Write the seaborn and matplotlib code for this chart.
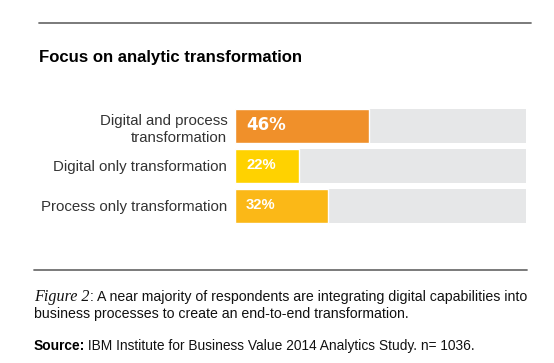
import matplotlib
matplotlib.use("Agg")
import matplotlib.pyplot as plt
import seaborn as sns
import pandas as pd
from matplotlib.lines import Line2D

categories = ["Digital and process\ntransformation", "Digital only transformation", "Process only transformation"]
values = [46, 22, 32]
bar_colors = ["#F0902A", "#FFD200", "#FBB817"]
total = [100, 100, 100]

title = "Focus on analytic transformation"
caption_fig = "Figure 2"
caption_rest = ": A near majority of respondents are integrating digital capabilities into"
caption_line2 = "business processes to create an end-to-end transformation."
source_bold = "Source:"
source_rest = " IBM Institute for Business Value 2014 Analytics Study. n= 1036."

sns.set_theme(style="white")
plt.rcParams["font.family"] = ["Liberation Sans", "DejaVu Sans"]

W, H = 554, 363
fig = plt.figure(figsize=(W / 100, H / 100), dpi=100)
fig.patch.set_facecolor("white")

ax = fig.add_axes([235 / W, 1 - 232 / H, (526.3 - 235) / W, 132 / H])
df = pd.DataFrame({"cat": categories, "val": values, "total": total})

sns.barplot(data=df, x="total", y="cat", color="#E6E7E8", width=0.86, ax=ax,
            saturation=1, linewidth=0)
sns.barplot(data=df, x="val", y="cat", hue="cat", palette=bar_colors, width=0.86,
            ax=ax, saturation=1, edgecolor="white", linewidth=1.0, legend=False)

ax.set_xlim(0, 100)
ax.set_ylim(2.65, -0.65)
ax.set_xlabel("")
ax.set_ylabel("")
ax.set_xticks([])
for s in ax.spines.values():
    s.set_visible(False)
ax.tick_params(axis="y", length=0, pad=5.5, labelsize=10.8, labelcolor="#333333")
for lab in ax.get_yticklabels():
    lab.set_linespacing(1.3)

for i, v in enumerate(values):
    if i == 0:
        ax.text(3.8, i - 0.02, f"{v}%", color="white", fontsize=12, fontweight="bold",
                va="center", ha="left", family=["DejaVu Sans"])
    else:
        ax.text(3.8, i - 0.03, f"{v}%", color="white", fontsize=10.6, fontweight="bold",
                va="center", ha="left")

# top rule
fig.add_artist(Line2D([39.3 / W, 531.3 / W], [1 - 23.3 / H, 1 - 23.3 / H], color="#707070", lw=1.3))
fig.text(39.3 / W, 1 - 61.7 / H, title, fontsize=12.1, fontweight="bold", color="black",
         ha="left", va="baseline")

# bottom rule
fig.add_artist(Line2D([34 / W, 526.7 / W], [1 - 270 / H, 1 - 270 / H], color="#707070", lw=1.3))

fig.canvas.draw()
renderer = fig.canvas.get_renderer()
t1 = fig.text(34 / W, 1 - 301 / H, caption_fig, fontsize=11.6, fontstyle="italic",
              family=["Liberation Serif"], color="#111111", ha="left", va="baseline")
bb = t1.get_window_extent(renderer)
fig.text(bb.x1 / W, 1 - 301 / H, caption_rest, fontsize=10.2, color="#111111",
         ha="left", va="baseline")
fig.text(34 / W, 1 - 317.7 / H, caption_line2, fontsize=10.2, color="#111111",
         ha="left", va="baseline")

t2 = fig.text(34 / W, 1 - 350 / H, source_bold, fontsize=9.9, fontweight="bold",
              color="black", ha="left", va="baseline")
bb2 = t2.get_window_extent(renderer)
fig.text(bb2.x1 / W - 0.002, 1 - 350 / H, source_rest, fontsize=9.9, color="#111111",
         ha="left", va="baseline")

fig.savefig("out.png", dpi=100)
